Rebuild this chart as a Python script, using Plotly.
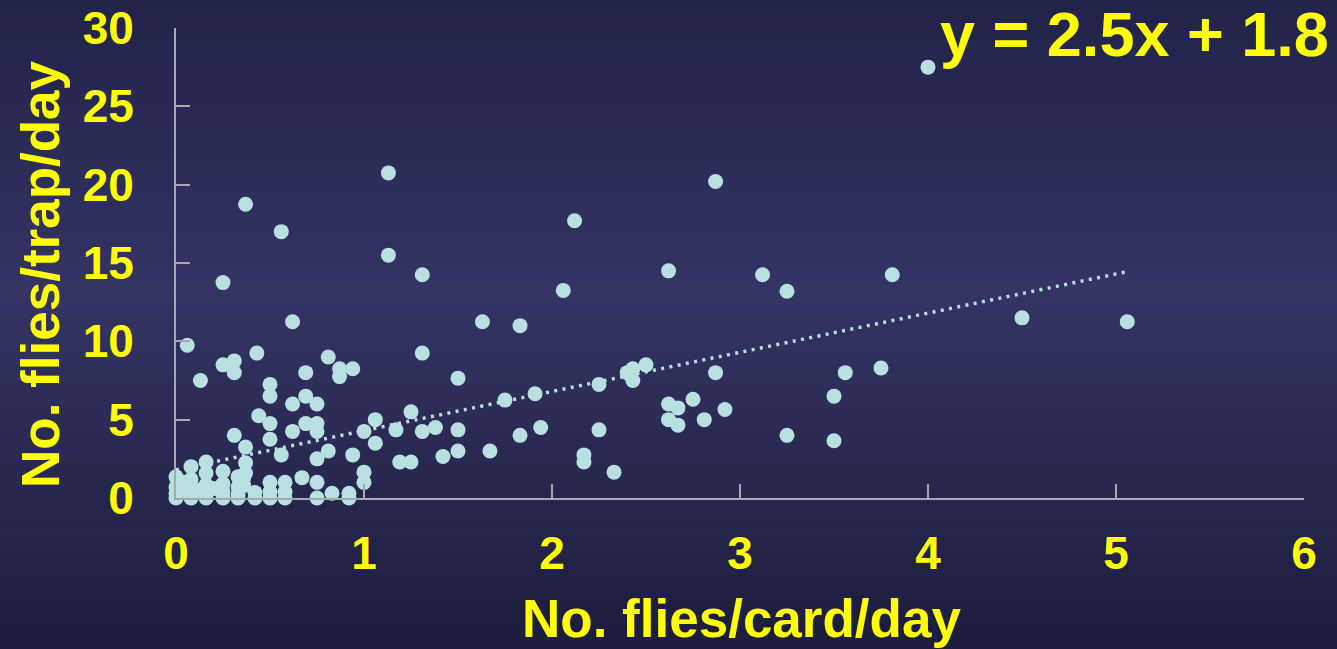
import plotly.graph_objects as go

# Flies caught per sticky card per day vs flies caught per trap per day
card_per_day = [
    4.00, 1.13, 2.87, 0.37, 2.12, 0.56, 1.13, 2.62, 1.31, 3.12,
    3.81, 0.25, 3.25, 2.06, 4.50, 5.06, 0.62, 1.63, 1.83, 0.06,
    0.43, 1.31, 0.81, 0.25, 0.31, 0.31, 0.87, 0.94, 0.87, 0.13,
    0.69, 0.50, 1.50, 2.43, 2.50, 2.43, 2.40, 3.75, 3.56, 2.87,
    2.25, 1.75, 1.91, 2.75, 3.50, 0.50, 0.69, 0.62, 0.75, 2.62,
    2.92, 2.67, 2.62, 2.67, 2.81, 1.25, 1.06, 0.44, 0.50, 0.69,
    0.75, 0.75, 0.62, 1.38, 1.94, 1.50, 1.31, 1.17, 2.25, 1.00,
    3.25, 1.83, 0.31, 3.50, 0.50, 1.06, 0.37, 1.67, 1.50, 0.81,
    1.42, 0.94, 2.17, 2.17, 0.56, 0.75, 1.19, 1.25, 2.33, 1.00,
    1.00, 0.67, 0.75, 0.75, 0.83, 0.92, 0.92, 0.37, 0.37, 0.00,
    0.00, 0.00, 0.00, 0.08, 0.08, 0.08, 0.08, 0.08, 0.16, 0.16,
    0.16, 0.16, 0.16, 0.25, 0.25, 0.25, 0.25, 0.33, 0.33, 0.33,
    0.33, 0.42, 0.42, 0.50, 0.50, 0.50, 0.58, 0.58, 0.58, 0.04,
    0.12, 0.20, 0.04, 0.36, 0.36,
]
trap_per_day = [
    27.5, 20.75, 20.2, 18.75, 17.7, 17.0, 15.5, 14.5, 14.25, 14.25,
    14.25, 13.75, 13.2, 13.25, 11.5, 11.25, 11.25, 11.25, 11.0, 9.75,
    9.25, 9.25, 9.0, 8.5, 8.75, 8.0, 8.25, 8.25, 7.75, 7.5,
    8.0, 7.25, 7.65, 8.25, 8.5, 7.5, 8.0, 8.3, 8.0, 8.0,
    7.25, 6.25, 6.65, 6.3, 6.5, 6.5, 6.5, 6.0, 6.0, 6.0,
    5.65, 5.75, 5.0, 4.65, 5.0, 5.5, 5.0, 5.25, 4.75, 4.75,
    4.75, 4.25, 4.25, 4.5, 4.5, 4.35, 4.25, 4.35, 4.35, 4.25,
    4.0, 4.0, 4.0, 3.65, 3.75, 3.5, 3.25, 3.0, 3.0, 3.0,
    2.65, 2.75, 2.75, 2.3, 2.75, 2.5, 2.3, 2.3, 1.65, 1.65,
    1.0, 1.3, 1.0, 0.0, 0.3, 0.3, 0.0, 2.25, 1.6, 1.35,
    0.7, 0.3, 0.0, 2.0, 1.2, 0.7, 0.2, 0.0, 2.3, 1.6,
    0.85, 0.3, 0.0, 1.7, 0.9, 0.4, 0.0, 1.35, 0.7, 0.2,
    0.0, 0.35, 0.0, 1.0, 0.4, 0.0, 1.0, 0.4, 0.0, 0.5,
    0.5, 0.6, 1.0, 1.3, 0.8,
]

# Least-squares line reported on the chart
slope = 2.5
intercept = 1.8

x_ticks = [0, 1, 2, 3, 4, 5, 6]
y_ticks = [0, 5, 10, 15, 20, 25, 30]

W, H = 1337, 649
YELLOW = "#ffff00"
POINT = "#b8e0e1"
AXIS = "#a9a9ad"
FONT = "Liberation Sans"

fit_x = [min(card_per_day), max(card_per_day)]
fit_y = [slope * v + intercept for v in fit_x]

fig = go.Figure()
fig.add_trace(go.Scatter(
    x=card_per_day, y=trap_per_day, mode="markers",
    marker=dict(size=15, color=POINT, line=dict(width=0)),
    cliponaxis=False, hoverinfo="x+y",
))
fig.add_trace(go.Scatter(
    x=fit_x, y=fit_y, mode="lines",
    line=dict(color=POINT, width=3.5, dash="3px,5.4px"),
    cliponaxis=False, hoverinfo="skip",
))

# Vertical navy gradient backdrop built from thin bands
def mix(c1, c2, t):
    return tuple(round(a + (b - a) * t) for a, b in zip(c1, c2))

top_c, mid_c, bot_c = (34, 35, 74), (52, 52, 101), (28, 29, 60)
mid_pos = 0.45
bands = 80
shapes = []
for i in range(bands):
    f = (i + 0.5) / bands  # fraction from top
    if f < mid_pos:
        c = mix(top_c, mid_c, f / mid_pos)
    else:
        c = mix(mid_c, bot_c, (f - mid_pos) / (1 - mid_pos))
    y1 = 1 - i / bands
    y0 = 1 - (i + 1) / bands
    shapes.append(dict(
        type="rect", xref="paper", yref="paper", x0=0, x1=1,
        y0=y0 - 0.001, y1=y1 + 0.001, layer="below",
        fillcolor="rgb(%d,%d,%d)" % c, line=dict(width=0),
    ))

x_dom = [176 / W, 1304 / W]
y_dom = [(H - 498) / H, (H - 28) / H]

axis_common = dict(
    showgrid=False, zeroline=False, showline=True, automargin=False,
    linecolor=AXIS, linewidth=2, ticks="inside", ticklen=14,
    tickwidth=2, tickcolor=AXIS,
    tickfont=dict(family=FONT, size=46, color=YELLOW, weight="bold"),
)

fig.update_layout(
    width=W, height=H,
    margin=dict(l=0, r=0, t=0, b=0, pad=0, autoexpand=False),
    paper_bgcolor="#2b2b58",
    plot_bgcolor="rgba(0,0,0,0)",
    showlegend=False,
    shapes=shapes,
    xaxis=dict(domain=x_dom, range=[0, 6], tickvals=x_ticks,
               ticklabelstandoff=14, **axis_common),
    yaxis=dict(domain=y_dom, range=[0, 30], tickvals=y_ticks,
               ticklabelstandoff=31, **axis_common),
    annotations=[
        dict(text="No. flies/card/day", xref="paper", yref="paper",
             x=741 / W, y=1 - 618 / H, xanchor="center", yanchor="middle",
             showarrow=False,
             font=dict(family=FONT, size=53, color=YELLOW, weight="bold")),
        dict(text="No. flies/trap/day", xref="paper", yref="paper",
             x=41 / W, y=1 - 274 / H, xanchor="center", yanchor="middle",
             textangle=-90, showarrow=False,
             font=dict(family=FONT, size=53, color=YELLOW, weight="bold")),
        dict(text="y = 2.5x + 1.8", xref="paper", yref="paper",
             x=1331 / W, y=1 - 34 / H, xanchor="right", yanchor="middle",
             showarrow=False,
             font=dict(family=FONT, size=63, color=YELLOW, weight="bold")),
    ],
)

fig.write_html("out.html")
